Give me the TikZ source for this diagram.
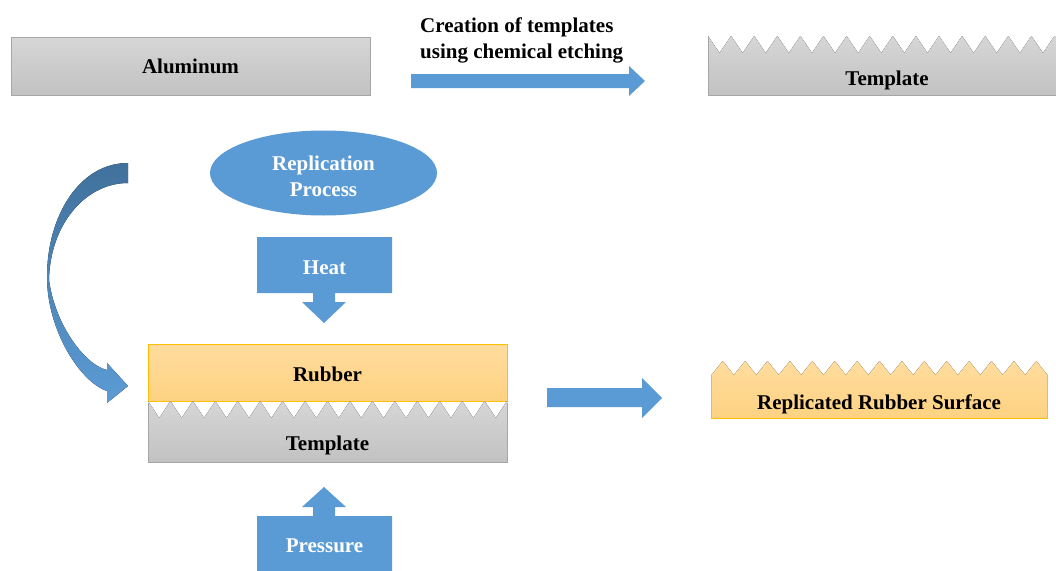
\documentclass[tikz,border=0pt]{standalone}
\usepackage{fontspec}
\setmainfont{Liberation Serif}
\usetikzlibrary{shapes.geometric}
\definecolor{boxblue}{HTML}{5B9BD5}
\definecolor{darkblue}{HTML}{41719C}
\definecolor{rubbertop}{HTML}{FFDC9E}
\definecolor{rubberbot}{HTML}{FDD282}
\definecolor{rubberedge}{HTML}{FFC000}
\definecolor{metaltop}{HTML}{D6D6D6}
\definecolor{metalbot}{HTML}{C2C2C2}
\definecolor{metaledge}{HTML}{A6A6A6}
\begin{document}
\begin{tikzpicture}[x=1pt,y=-1pt,
  lbl/.style={font=\fontsize{21}{26}\selectfont\bfseries, text=black, align=center, inner sep=0pt},
  wlbl/.style={lbl, text=white},
  metal/.style={top color=metaltop, bottom color=metalbot},
  rubber/.style={top color=rubbertop, bottom color=rubberbot},
  edge/.style={line width=0.7pt},
]
\fill[white] (0,0) rectangle (1056,570);
\useasboundingbox (0,0) rectangle (1056,570);

% aluminum plate
\node[metal, draw=metaledge, edge, minimum width=359pt, minimum height=58pt] (alu) at (190.5,66) {};
\node[lbl] (alutxt) at (190.5,66.5) {Aluminum};

% etching step
\fill[boxblue] (411,74) -- (629,74) -- (629,66) -- (645,81) -- (629,96) -- (629,88) -- (411,88) -- cycle;
\node[lbl, align=left, anchor=west] (etch) at (420,40) {Creation of templates\\using chemical etching};

% etched template (teeth on top)
\begin{scope}
\clip (0,0) rectangle (1056,570);
\fill[metal] (708,95) -- (708,36)
  foreach \k in {0,...,14} { -- ({708+23.1*\k+11.55},53) -- ({708+23.1*(\k+1)},36) }
  -- (1060,36) -- (1060,95) -- cycle;
\draw[metaledge, edge] (708,36) -- (708,95) -- (1060,95);
\end{scope}
\node[lbl] (tpl1) at (887,80) {Template};

% replication process
\node[ellipse, fill=boxblue, minimum width=227pt, minimum height=85pt] (rep) at (323.5,173) {};
\node[wlbl] (reptxt) at (323.5,176) {Replication\\Process};

% heat callout
\fill[boxblue] (257,237) -- (392,237) -- (392,293) -- (335,293) -- (335,302) -- (346,302)
  -- (324,323) -- (302,302) -- (313,302) -- (313,293) -- (257,293) -- cycle;
\node[wlbl] (heat) at (324.5,267.5) {Heat};

% curved arrow into the stack
\fill[top color=darkblue, bottom color=boxblue]
  (128,163) .. controls (80,163) and (47,215) .. (47,277)
  .. controls (47,330) and (80,382) .. (107,391)
  -- (107,403) -- (128,386) -- (107,363) -- (107,370)
  .. controls (85,365) and (55,325) .. (49,280)
  .. controls (50,225) and (85,183) .. (128,183) -- cycle;

% rubber on template
\node[rubber, draw=rubberedge, edge, minimum width=359pt, minimum height=57pt] (rub) at (327.5,372.5) {};
\node[lbl] (rubtxt) at (327.5,374.5) {Rubber};
\fill[metal] (148,462) -- (148,401)
  foreach \k in {0,...,15} { -- ({148+22.44*\k+11.22},418) -- ({148+22.44*(\k+1)},401) }
  -- (507,462) -- cycle;
\draw[metaledge, edge] (148,403) -- (148,462) -- (507,462) -- (507,403);
\node[lbl] (tpl2) at (327.5,445.5) {Template};

% pressure callout
\fill[boxblue] (257,572) -- (257,516) -- (313,516) -- (313,507) -- (302,507) -- (324,487)
  -- (346,507) -- (335,507) -- (335,516) -- (392,516) -- (392,572) -- cycle;
\node[wlbl] (press) at (324.5,546) {Pressure};

% result arrow
\fill[boxblue] (547,388) -- (642,388) -- (642,378) -- (662,398) -- (642,418) -- (642,407) -- (547,407) -- cycle;

% replicated rubber
\fill[rubber] (711.5,418) -- (711.5,375)
  foreach \k in {0,...,14} { -- ({711.5+22.4*\k+11.2},361) -- ({711.5+22.4*(\k+1)},375) }
  -- (1047.5,418) -- cycle;
\draw[rubberedge, edge] (711.5,375) -- (711.5,418) -- (1047.5,418) -- (1047.5,375);
\node[lbl] (repl) at (879,404.5) {Replicated Rubber Surface};
\end{tikzpicture}
\end{document}
